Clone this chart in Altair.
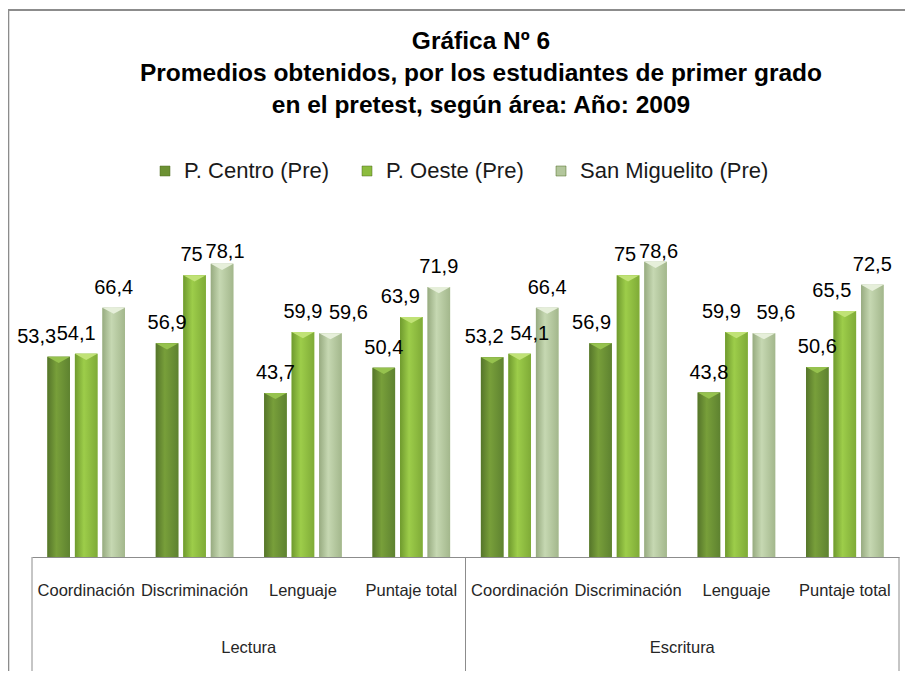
import altair as alt
import pandas as pd

GROUPS = ["Lectura", "Escritura"]
CATEGORIES = ["Coordinación", "Discriminación", "Lenguaje", "Puntaje total"]
SERIES = ["P. Centro (Pre)", "P. Oeste (Pre)", "San Miguelito (Pre)"]
P_CENTRO = [53.3, 56.9, 43.7, 50.4, 53.2, 56.9, 43.8, 50.6]
P_OESTE = [54.1, 75, 59.9, 63.9, 54.1, 75, 59.9, 65.5]
SAN_MIGUELITO = [66.4, 78.1, 59.6, 71.9, 66.4, 78.6, 59.6, 72.5]
TITLE_LINES = [
    "Gráfica Nº 6",
    "Promedios obtenidos, por los estudiantes de primer grado",
    "en el pretest, según área: Año: 2009",
]

# ---- styling -------------------------------------------------------------
FONT = "Liberation Sans, Arial, sans-serif"
BASE_COLORS = ["#6c9133", "#8cbc3e", "#b3c69c"]
GRADIENTS = [
    ["#55752a", "#789f3a", "#5e8230"],
    ["#6f9a2e", "#9dcd4a", "#7fab37"],
    ["#97ab80", "#c6d8b2", "#a3b78c"],
]
CAP_COLORS = ["#96c24e", "#c0e276", "#e6efda"]
GRAY = "#8c8c8c"
# small manual nudges of a few value labels (px), as in the original figure
LABEL_DX = {
    "Lectura|Coordinación|P. Centro (Pre)": -22,
    "Lectura|Coordinación|P. Oeste (Pre)": -10,
    "Lectura|Discriminación|P. Oeste (Pre)": -3,
    "Lectura|Discriminación|San Miguelito (Pre)": 3,
    "Lectura|Lenguaje|San Miguelito (Pre)": 18,
    "Lectura|Puntaje total|P. Oeste (Pre)": -11,
    "Escritura|Coordinación|P. Centro (Pre)": -8,
    "Escritura|Coordinación|P. Oeste (Pre)": 10,
    "Escritura|Discriminación|P. Centro (Pre)": -9,
    "Escritura|Discriminación|P. Oeste (Pre)": -3,
    "Escritura|Discriminación|San Miguelito (Pre)": 3,
    "Escritura|Lenguaje|P. Oeste (Pre)": -15,
    "Escritura|Lenguaje|San Miguelito (Pre)": 12,
    "Escritura|Puntaje total|P. Oeste (Pre)": -13,
}

W, H = 867, 338
PAD = {"left": 24, "top": 211, "right": 6, "bottom": 114}

keys = [f"{g}|{c}" for g in GROUPS for c in CATEGORIES]
rows = []
for s, vals in zip(SERIES, [P_CENTRO, P_OESTE, SAN_MIGUELITO]):
    for k, v in zip(keys, vals):
        g, c = k.split("|")
        rows.append({
            "key": k, "grupo": g, "cat": c, "serie": s, "valor": v,
            "etiqueta": f"{v:g}".replace(".", ","), "id": f"{k}|{s}",
        })
df = pd.DataFrame(rows)


def X(band_position=None):
    kw = {}
    if band_position is not None:
        kw["bandPosition"] = band_position
    return alt.X(
        "key:N", sort=keys,
        scale=alt.Scale(domain=keys, paddingInner=0, paddingOuter=0),
        axis=alt.Axis(
            title=None, labelExpr="split(datum.label, '|')[1]", ticks=False,
            domainColor=GRAY, domainWidth=1, labelFont=FONT, labelFontSize=16.5,
            labelColor="#262626", labelPadding=25, labelAngle=0, grid=False,
        ),
        **kw,
    )


XOFF = alt.XOffset(
    "serie:N", sort=SERIES,
    scale=alt.Scale(domain=SERIES, paddingInner=0.18, paddingOuter=0.56),
)
Y = alt.Y("valor:Q", scale=alt.Scale(domain=[0, 90], nice=False, zero=True), axis=None)
YL = alt.Y("ly:Q", scale=alt.Scale(domain=[0, 90], nice=False, zero=True), axis=None)

base = alt.Chart(df).mark_bar().encode(
    x=X(), xOffset=XOFF, y=Y,
    color=alt.Color(
        "serie:N", sort=SERIES,
        scale=alt.Scale(domain=SERIES, range=BASE_COLORS),
        legend=alt.Legend(
            title=None, orient="none", legendX=122, legendY=-59,
            direction="horizontal", columns=3, symbolType="square",
            symbolSize=100, symbolStrokeWidth=0.5, symbolStrokeColor="#4d6b22",
            labelFont=FONT, labelFontSize=22, labelColor="#1a1a1a",
            labelOffset=8, columnPadding=26, labelLimit=400,
        ),
    ),
)

layers = [base]
bar_w = (W / len(keys)) / (3 - 0.18 + 2 * 0.56) * (1 - 0.18)
for s, stops, cap in zip(SERIES, GRADIENTS, CAP_COLORS):
    sub = alt.Chart(df).transform_filter(alt.datum.serie == s)
    grad = {
        "gradient": "linear", "x1": 0, "y1": 0, "x2": 1, "y2": 0,
        "stops": [
            {"offset": 0, "color": stops[0]},
            {"offset": 0.4, "color": stops[1]},
            {"offset": 1, "color": stops[2]},
        ],
    }
    layers.append(sub.mark_bar(fill=grad).encode(x=X(), xOffset=XOFF, y=Y))
    layers.append(
        sub.mark_point(
            shape="M-1,0L1,0L0,0.55Z", filled=True, fill=cap, opacity=1,
            size=bar_w ** 2, strokeWidth=0,
        ).encode(x=X(), xOffset=XOFF, y=Y)
    )

# value labels (labels of the two tallest bars sit lower, as in the original)
lab = alt.Chart(df).transform_calculate(ly="min(datum.valor, 75.8)")
nudged = list(LABEL_DX.keys())
layers.append(
    lab.transform_filter(~alt.FieldOneOfPredicate(field="id", oneOf=nudged))
    .mark_text(font=FONT, fontSize=20, baseline="alphabetic", dy=-14, color="#000000")
    .encode(x=X(), xOffset=XOFF, y=YL, text="etiqueta:N")
)
for dx in sorted(set(LABEL_DX.values())):
    ids = [k for k, v in LABEL_DX.items() if v == dx]
    layers.append(
        lab.transform_filter(alt.FieldOneOfPredicate(field="id", oneOf=ids))
        .mark_text(font=FONT, fontSize=20, baseline="alphabetic", dy=-14, dx=dx, color="#000000")
        .encode(x=X(), xOffset=XOFF, y=YL, text="etiqueta:N")
    )

# group dividers below the axis
div_df = pd.DataFrame({"key": [f"{g}|{CATEGORIES[0]}" for g in GROUPS]})
layers.append(
    alt.Chart(div_df).mark_rule(color=GRAY, strokeWidth=1).encode(
        x=X(0), y=alt.value(H), y2=alt.value(H + PAD["bottom"])
    )
)
layers.append(
    alt.Chart(div_df.head(1)).mark_rule(color=GRAY, strokeWidth=1).encode(
        x=alt.value(W), y=alt.value(H), y2=alt.value(H + PAD["bottom"])
    )
)
# group labels
grp_df = pd.DataFrame({"key": [f"{g}|{CATEGORIES[1]}" for g in GROUPS], "grupo": GROUPS})
layers.append(
    alt.Chart(grp_df).mark_text(font=FONT, fontSize=16.5, color="#262626", baseline="middle", align="center")
    .encode(x=X(1), y=alt.value(H + 91), text="grupo:N")
)

# chart frame (top and left edges)
one = pd.DataFrame({"a": [0]})
layers.append(
    alt.Chart(one).mark_rule(color=GRAY, strokeWidth=2).encode(
        x=alt.value(-23.7), y=alt.value(-209), y2=alt.value(H + PAD["bottom"])
    )
)
layers.append(
    alt.Chart(one).mark_rule(color=GRAY, strokeWidth=2).encode(
        x=alt.value(-24), x2=alt.value(W + PAD["right"]), y=alt.value(-209)
    )
)
# title
layers.append(
    alt.Chart(one).mark_text(
        text=TITLE_LINES, font=FONT, fontSize=24.5, fontWeight="bold",
        lineHeight=32, baseline="middle", align="center", color="#000000",
    ).encode(x=alt.value(449), y=alt.value(-177))
)

chart = (
    alt.layer(*layers)
    .properties(width=W, height=H, padding=PAD, autosize=alt.AutoSizeParams(type="none"),
                background="white")
    .configure_view(stroke=None)
)

chart.save("out.html", embed_options={"renderer": "svg", "actions": False})
